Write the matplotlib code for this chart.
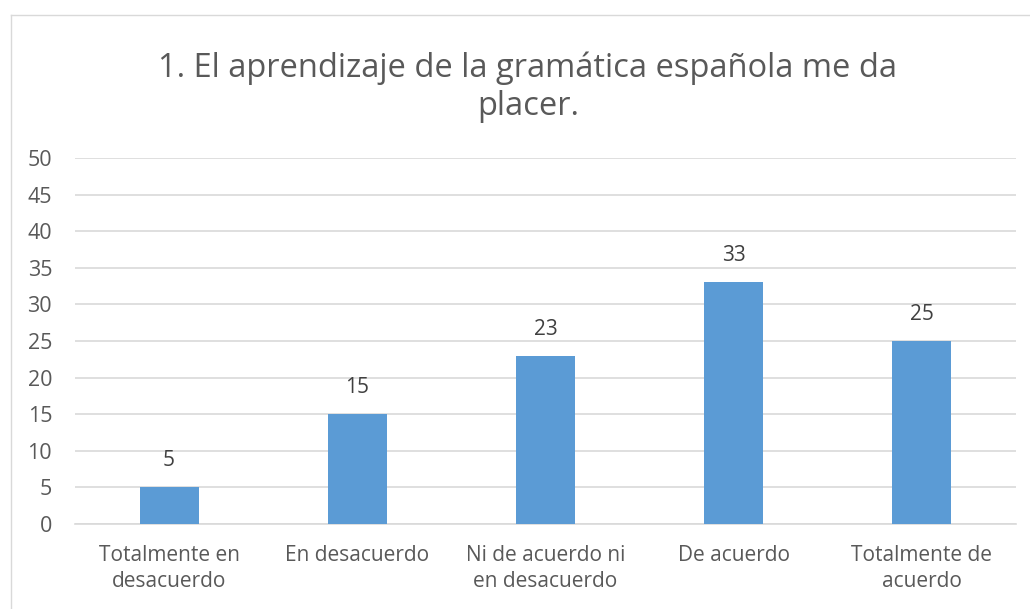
import matplotlib
matplotlib.use("Agg")
import matplotlib.pyplot as plt
from matplotlib.lines import Line2D

categories = ["Totalmente en\ndesacuerdo", "En desacuerdo", "Ni de acuerdo ni\nen desacuerdo", "De acuerdo", "Totalmente de\nacuerdo"]
values = [5, 15, 23, 33, 25]
yticks = [0, 5, 10, 15, 20, 25, 30, 35, 40, 45, 50]
title = "1. El aprendizaje de la gramática española me da\nplacer."

plt.rcParams['font.family'] = ['Open Sans', 'DejaVu Sans']
W, H = 1030, 609
fig = plt.figure(figsize=(W / 100, H / 100), dpi=100)
# chart area border (top and left edges visible)
fig.lines.append(Line2D([10.5 / W, 1.0], [1 - 14.5 / H, 1 - 14.5 / H], transform=fig.transFigure,
                        color='#D9D9D9', linewidth=1))
fig.lines.append(Line2D([10.5 / W, 10.5 / W], [0, 1 - 14.5 / H], transform=fig.transFigure,
                        color='#D9D9D9', linewidth=1))
ax = fig.add_axes([75 / W, 1 - 524 / H, (1016 - 75) / W, (524 - 158) / H])
x = range(len(values))
ax.bar(x, values, width=0.314, color='#5B9BD5', zorder=3)
for xi, v in zip(x, values):
    ax.text(xi, v + 2.2, str(v), ha='center', va='bottom', fontsize=15, color='#404040')
ax.set_ylim(0, 50)
ax.set_xlim(-0.5, len(values) - 0.5)
ax.set_yticks(yticks)
ax.set_yticklabels([str(t) for t in yticks], fontsize=15.5, color='#595959')
ax.set_xticks(list(x))
ax.set_xticklabels(categories, fontsize=15, color='#595959', linespacing=1.3)
ax.yaxis.grid(True, color='#D9D9D9', linewidth=1.2, zorder=0)
for s in ['top', 'right', 'left']:
    ax.spines[s].set_visible(False)
ax.spines['bottom'].set_color('#D9D9D9')
ax.spines['bottom'].set_linewidth(1.2)
ax.tick_params(axis='y', length=0, pad=16.5)
ax.tick_params(axis='x', length=0, pad=15)
fig.text(528 / W, 1 - 87 / H, title, ha='center', va='center', fontsize=23.5, color='#595959', linespacing=1.2)
fig.savefig("out.png", dpi=100)
